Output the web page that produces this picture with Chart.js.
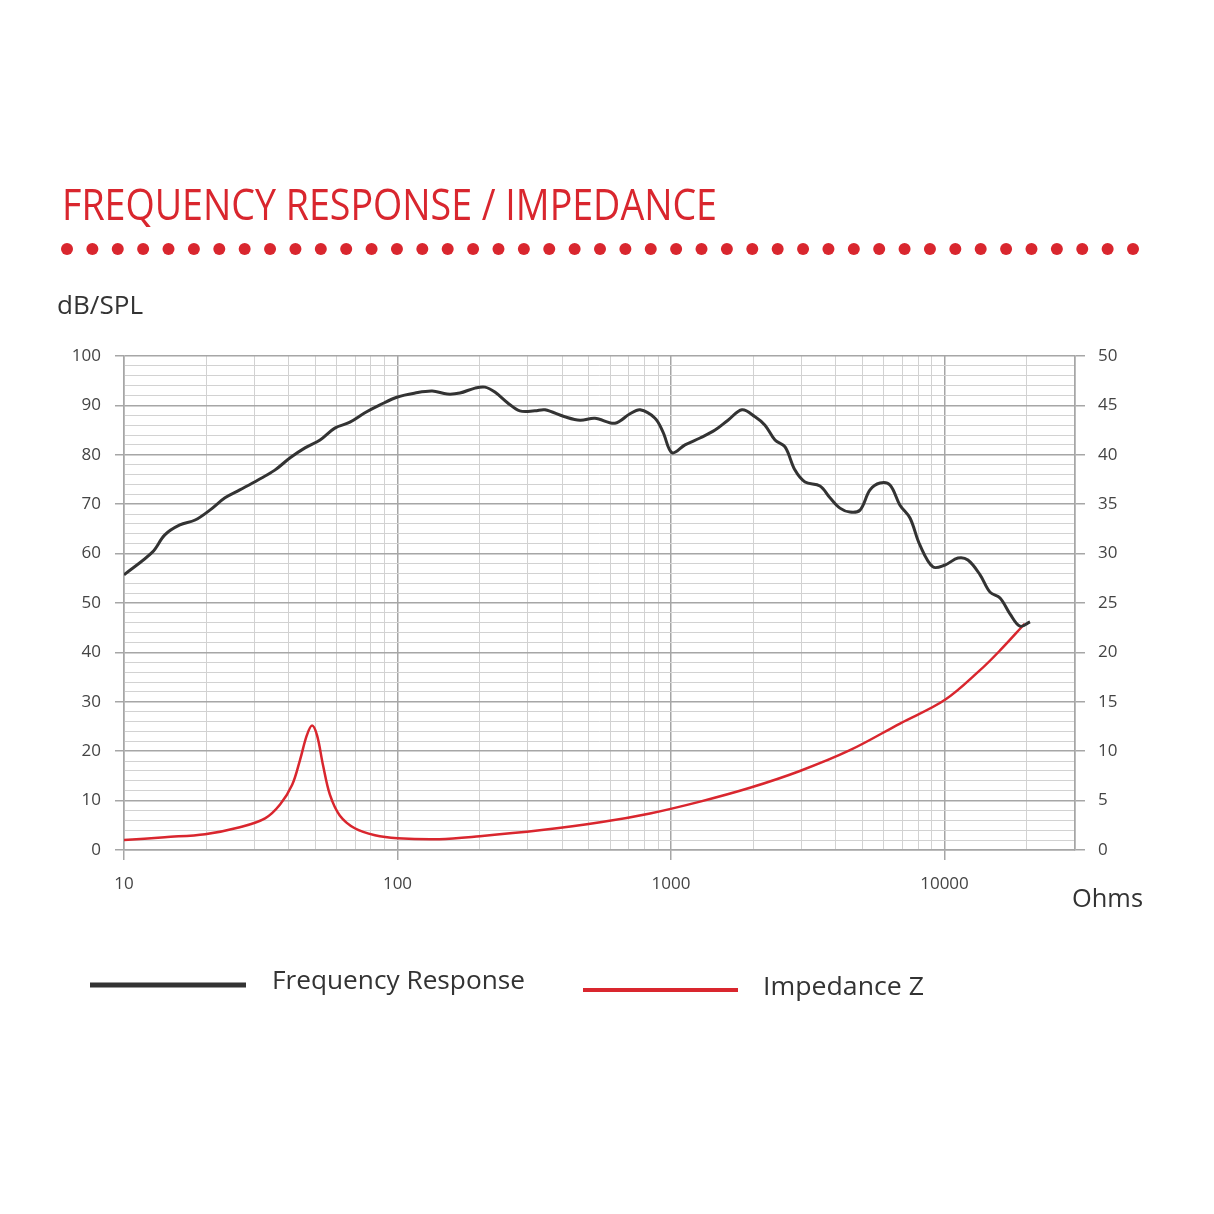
<!DOCTYPE html>
<html>
<head>
<meta charset="utf-8">
<title>Frequency Response / Impedance</title>
<script src="https://cdn.jsdelivr.net/npm/chart.js@4.4.1/dist/chart.umd.min.js"></script>
<style>
  html, body { margin: 0; padding: 0; background: #fff; }
  #wrap { width: 1214px; height: 1214px; position: relative; }
</style>
</head>
<body>
<div id="wrap"><canvas id="fr" width="1214" height="1214"></canvas></div>
<script>
// frequency response (dB SPL, left axis)
const frFreq = [10, 12.7, 14.1, 16, 18.2, 20.6, 23.4, 26.5, 30.9, 35.6, 40.5, 45.9, 52.1, 59, 67, 76, 86.3,
  100, 116, 134, 152, 169, 192, 209, 227, 253, 280, 318, 346, 409, 465, 527, 624, 708, 771, 874, 935,
  1009, 1125, 1277, 1449, 1616, 1818, 2029, 2206, 2400, 2612, 2840, 3090, 3505, 3813, 4147, 4510, 4909,
  5341, 5808, 6319, 6874, 7478, 8134, 9074, 10045, 11200, 12180, 13490, 14670, 15960, 17350, 18880, 20540];
const frSpl = [55.7, 60.3, 63.8, 65.8, 66.8, 68.8, 71.3, 72.9, 74.9, 76.9, 79.4, 81.4, 83.0, 85.4, 86.6, 88.5, 90.1,
  91.7, 92.5, 92.9, 92.3, 92.5, 93.5, 93.7, 92.7, 90.5, 88.9, 88.9, 89.1, 87.7, 87.0, 87.4, 86.4, 88.3, 89.1, 87.4, 84.6,
  80.4, 82.0, 83.4, 85.0, 87.0, 89.1, 87.7, 86.0, 83.0, 81.6, 76.9, 74.5, 73.7, 71.3, 69.2, 68.4, 68.8,
  72.9, 74.3, 73.9, 69.8, 67.2, 61.7, 57.3, 57.7, 59.1, 58.7, 55.7, 52.2, 51.0, 47.8, 45.3, 46.2];

// impedance (ohms, right axis)
const zFreq = [10, 14.1, 19.8, 26.5, 32.8, 37.2, 41.2, 44, 46.6, 48.7, 50.8, 53.4, 56.6, 61.5, 69.8, 82.7,
  100, 142, 200, 331, 551, 838, 1277, 1944, 2960, 4510, 6874, 10045, 13490, 15960, 19640];
const zOhms = [1.0, 1.3, 1.6, 2.3, 3.2, 4.6, 6.6, 9.1, 11.6, 12.6, 11.6, 8.6, 5.6, 3.5, 2.2, 1.5,
  1.2, 1.1, 1.4, 2.0, 2.8, 3.7, 4.9, 6.3, 8.0, 10.1, 12.8, 15.2, 18.2, 20.2, 22.9];

// axis ticks
const xDecades = [10, 100, 1000, 10000];
const xMax = 30000;
const dbTicks = [0, 10, 20, 30, 40, 50, 60, 70, 80, 90, 100];
const ohmTicks = [0, 5, 10, 15, 20, 25, 30, 35, 40, 45, 50];

const RED = '#d9262e';
const INK = '#333333';
const FONT = '"Open Sans", "Noto Sans", sans-serif';
const MAJOR = '#a6a6a6';
const MINOR = '#d2d2d2';

// 1..9 per decade for the log grid
const xGrid = [];
xDecades.forEach(d => {
    for (let m = 1; m <= 9; m++) {
        if (d * m <= xMax) xGrid.push(d * m);
    }
});

function fitText(ctx, text, x, y, size, width, color) {
    ctx.save();
    ctx.font = size + 'px ' + FONT;
    ctx.fillStyle = color;
    ctx.textBaseline = 'alphabetic';
    const w = ctx.measureText(text).width;
    ctx.translate(x, y);
    ctx.scale(width / w, 1);
    ctx.fillText(text, 0, 0);
    ctx.restore();
}

const decorations = {
    id: 'decorations',
    afterDraw(chart) {
        const ctx = chart.ctx;
        fitText(ctx, 'FREQUENCY RESPONSE / IMPEDANCE', 62, 220, 44, 655, RED);

        // dotted rule
        ctx.save();
        ctx.fillStyle = RED;
        const nDots = 43;
        for (let i = 0; i < nDots; i++) {
            const cx = 67 + i * (1133 - 67) / (nDots - 1);
            ctx.beginPath();
            ctx.arc(cx, 249, 6, 0, Math.PI * 2);
            ctx.fill();
        }
        ctx.restore();

        fitText(ctx, 'dB/SPL', 57, 314, 25, 86, INK);
        fitText(ctx, 'Ohms', 1072, 907, 26, 71, INK);

        // legend
        ctx.save();
        ctx.lineCap = 'butt';
        ctx.strokeStyle = INK;
        ctx.lineWidth = 5;
        ctx.beginPath(); ctx.moveTo(90, 985); ctx.lineTo(246, 985); ctx.stroke();
        ctx.strokeStyle = RED;
        ctx.lineWidth = 4;
        ctx.beginPath(); ctx.moveTo(583, 990); ctx.lineTo(738, 990); ctx.stroke();
        ctx.restore();
        fitText(ctx, 'Frequency Response', 272, 989, 26, 253, INK);
        fitText(ctx, 'Impedance Z', 763, 995, 26, 161, INK);
    }
};

new Chart(document.getElementById('fr'), {
    type: 'line',
    data: {
        datasets: [{
            label: 'Frequency Response',
            data: frFreq.map((f, i) => ({ x: f, y: frSpl[i] })),
            yAxisID: 'y',
            borderColor: INK,
            borderWidth: 3,
            pointRadius: 0,
            tension: 0.35,
            fill: false
        }, {
            label: 'Impedance Z',
            data: zFreq.map((f, i) => ({ x: f, y: zOhms[i] })),
            yAxisID: 'y2',
            borderColor: RED,
            borderWidth: 2.5,
            pointRadius: 0,
            tension: 0.35,
            fill: false
        }]
    },
    options: {
        responsive: false,
        animation: false,
        layout: { padding: { top: 356, left: 0, right: 0, bottom: 0 } },
        plugins: {
            legend: { display: false },
            tooltip: { enabled: false }
        },
        scales: {
            x: {
                type: 'logarithmic',
                min: 10,
                max: xMax,
                afterBuildTicks: scale => { scale.ticks = xGrid.map(v => ({ value: v })); },
                afterFit: scale => { scale.height = 364; },
                border: { color: MAJOR, width: 1.5 },
                grid: {
                    color: c => xDecades.includes(c.tick.value) ? MAJOR : MINOR,
                    lineWidth: c => xDecades.includes(c.tick.value) ? 1.5 : 1,
                    tickColor: c => xDecades.includes(c.tick.value) ? MAJOR : 'rgba(0,0,0,0)',
                    tickLength: 10
                },
                ticks: {
                    autoSkip: false,
                    maxRotation: 0,
                    padding: 14,
                    color: '#444',
                    font: { family: FONT, size: 17 },
                    callback: v => xDecades.includes(v) ? String(v) : ''
                }
            },
            y: {
                position: 'left',
                min: 0,
                max: 100,
                afterFit: scale => { scale.width = 124; },
                border: { color: MAJOR, width: 1.5 },
                grid: {
                    color: c => dbTicks.includes(c.tick.value) ? MAJOR : MINOR,
                    lineWidth: c => dbTicks.includes(c.tick.value) ? 1.5 : 1,
                    tickColor: c => dbTicks.includes(c.tick.value) ? MAJOR : 'rgba(0,0,0,0)',
                    tickLength: 9
                },
                ticks: {
                    stepSize: 2,
                    autoSkip: false,
                    padding: 14,
                    color: '#444',
                    font: { family: FONT, size: 17 },
                    callback: v => dbTicks.includes(v) ? String(v) : ''
                }
            },
            y2: {
                position: 'right',
                min: 0,
                max: 50,
                afterFit: scale => { scale.width = 139; },
                border: { color: MAJOR, width: 1.5 },
                grid: {
                    drawOnChartArea: false,
                    color: MAJOR,
                    lineWidth: 1.5,
                    tickLength: 10
                },
                ticks: {
                    stepSize: 5,
                    padding: 13,
                    color: '#444',
                    font: { family: FONT, size: 17 },
                    callback: v => ohmTicks.includes(v) ? String(v) : ''
                }
            }
        }
    },
    plugins: [decorations]
});
</script>
</body>
</html>
